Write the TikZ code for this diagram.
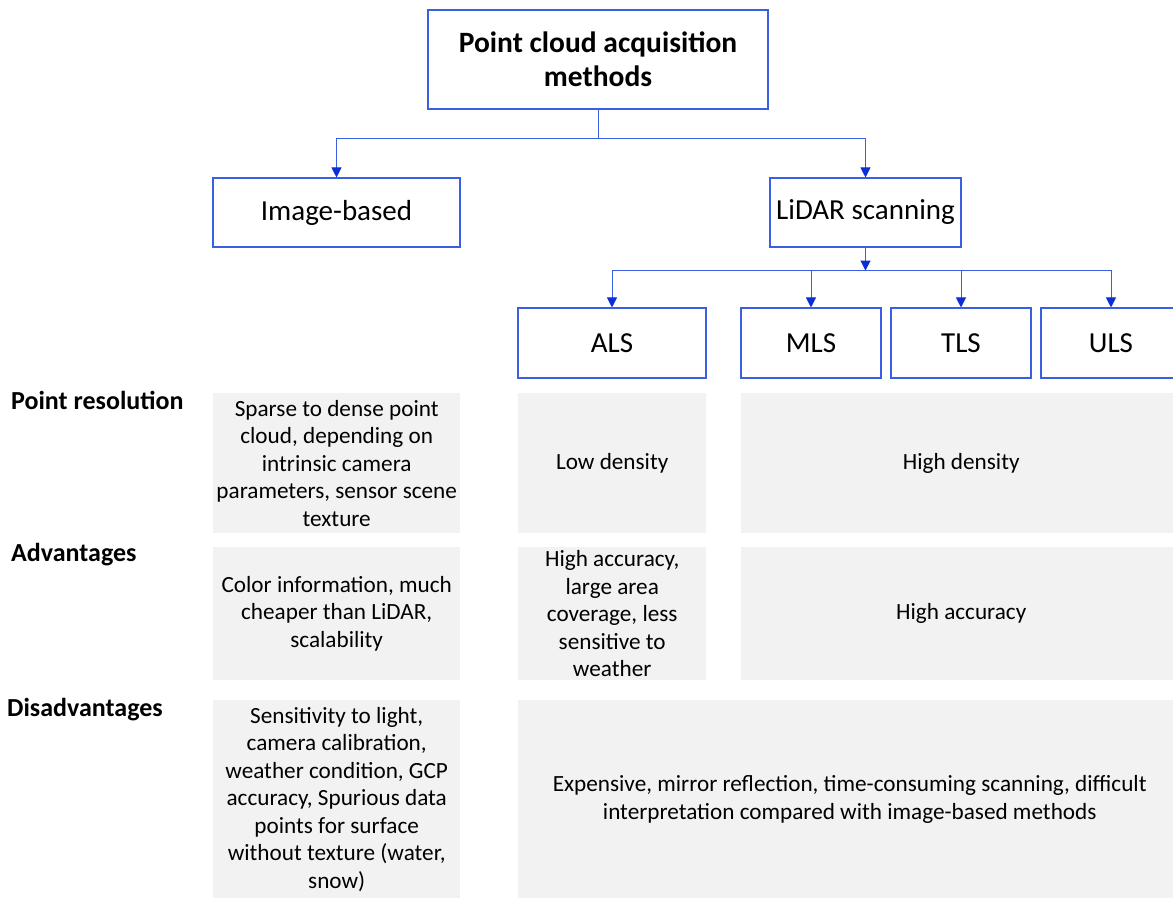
\documentclass[tikz,border=0pt]{standalone}
\usepackage{fontspec}
\setmainfont{Carlito}
\usepackage{xcolor}
\usetikzlibrary{positioning,arrows.meta}
\definecolor{LinkBlue}{HTML}{3A5FE5}
\definecolor{TipBlue}{HTML}{0B2ED6}
\definecolor{CellGray}{HTML}{F2F2F2}

\begin{document}
\begin{tikzpicture}[x=1pt, y=-1pt, >={Triangle[length=10pt,width=10pt,color=TipBlue]},
                    every node/.style={align=center, inner sep=2pt},
                    catbox/.style={draw=LinkBlue, line width=1.1pt, fill=white,
                                   font=\fontsize{29}{34}\selectfont},
                    cell/.style={fill=CellGray, anchor=north west,
                                 font=\fontsize{23.2}{27.5}\selectfont},
                    rowlabel/.style={anchor=north west, font=\bfseries\fontsize{26}{30}\selectfont},
                    link/.style={draw=LinkBlue, line width=1pt}]
\clip (0,0) rectangle (1173,898);
% hierarchy
\node[catbox, minimum width=340, minimum height=99, font=\bfseries\fontsize{29.5}{34}\selectfont]
  (acq) at (598,59.5) {Point cloud acquisition\\methods};
\node[catbox, minimum width=247, minimum height=69] (img) at (336.5,212.5) {Image-based};
\node[catbox, minimum width=191, minimum height=69] (lidar) at (865.5,212.5) {LiDAR scanning};
\node[catbox, minimum width=188, minimum height=70] (als) at (612,343) {ALS};
\node[catbox, minimum width=140, minimum height=70] (mls) at (811,343) {MLS};
\node[catbox, minimum width=140, minimum height=70] (tls) at (961,343) {TLS};
\node[catbox, minimum width=140, minimum height=70] (uls) at (1111,343) {ULS};
\coordinate (fork) at ([yshift=-29pt]acq.south);
\coordinate (split) at ([yshift=-23pt]lidar.south);
\draw[link] (acq.south) -- (fork);
\draw[link,->] (fork) -| (img.north);
\draw[link,->] (fork) -| (lidar.north);
\draw[link,->] (lidar.south) -- (split);
\foreach \n in {als,mls,tls,uls}
  \draw[link,->] (split) -| (\n.north);
% comparison rows
\node[rowlabel] (reslabel) at (9,389) {Point resolution};
\node[rowlabel] (advlabel) at (9,541) {Advantages};
\node[rowlabel] (dislabel) at (5,696) {Disadvantages};
\node[cell, minimum width=247, minimum height=140] (imgres) at (213,393)
  {Sparse to dense point\\cloud, depending on\\intrinsic camera\\parameters, sensor scene\\texture};
\node[cell, minimum width=188, minimum height=140] (alsres) at (518,393) {Low density};
\node[cell, minimum width=440, minimum height=140] (tlsres) at (741,393) {High density};
\node[cell, minimum width=247, minimum height=133] (imgadv) at (213,547)
  {Color information, much\\cheaper than LiDAR,\\scalability};
\node[cell, minimum width=188, minimum height=133] (alsadv) at (518,547)
  {High accuracy,\\large area\\coverage, less\\sensitive to\\weather};
\node[cell, minimum width=440, minimum height=133] (tlsadv) at (741,547) {High accuracy};
\node[cell, minimum width=247, minimum height=198] (imgdis) at (213,700)
  {Sensitivity to light,\\camera calibration,\\weather condition, GCP\\accuracy, Spurious data\\points for surface\\without texture (water,\\snow)};
\node[cell, minimum width=663, minimum height=198] (lidardis) at (518,700)
  {Expensive, mirror reflection, time-consuming scanning, difficult\\interpretation compared with image-based methods};
\end{tikzpicture}
\end{document}
